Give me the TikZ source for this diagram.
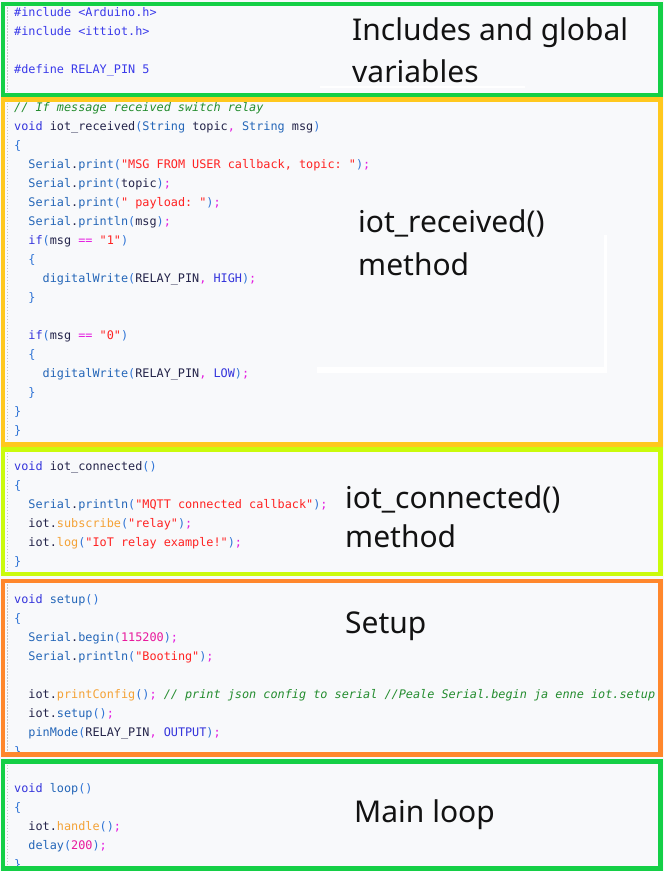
\documentclass[tikz,border=0pt]{standalone}
\usepackage{fontspec}
\usepackage{xcolor}
\newfontfamily\codefont{DejaVu Sans Mono}
\newfontfamily\labelfont{Noto Sans}

\definecolor{paper}{HTML}{F8F9FB}
\definecolor{framegreen}{HTML}{14CF46}
\definecolor{frameyellow}{HTML}{FFC81E}
\definecolor{framelime}{HTML}{CAFB0C}
\definecolor{frameorange}{HTML}{FF872C}
\definecolor{codeid}{HTML}{24244A}
\definecolor{codekw}{HTML}{3434DC}
\definecolor{codepre}{HTML}{3A3AEA}
\definecolor{codeapi}{HTML}{2466B8}
\definecolor{codebr}{HTML}{2F74D6}
\definecolor{codestr}{HTML}{FF2222}
\definecolor{codepun}{HTML}{E41CE0}
\definecolor{codenum}{HTML}{E8189C}
\definecolor{codelib}{HTML}{F4A236}
\definecolor{codecom}{HTML}{238C2E}

\newcommand\ckw[1]{\textcolor{codekw}{#1}}
\newcommand\cpre[1]{\textcolor{codepre}{#1}}
\newcommand\capi[1]{\textcolor{codeapi}{#1}}
\newcommand\cbr[1]{\textcolor{codebr}{#1}}
\newcommand\cstr[1]{\textcolor{codestr}{#1}}
\newcommand\cpun[1]{\textcolor{codepun}{#1}}
\newcommand\cnum[1]{\textcolor{codenum}{#1}}
\newcommand\clib[1]{\textcolor{codelib}{#1}}
\newcommand\ccom[1]{\textcolor{codecom}{\itshape #1}}

\tikzset{
    code/.style={anchor=base west,inner sep=0pt,text=codeid,
        font=\codefont\fontsize{11.83}{14}\selectfont\frenchspacing},
    caption/.style={anchor=base west,inner sep=0pt,text=black!93,
        font=\labelfont\fontsize{30}{36}\selectfont},
    guide/.style={gray!45,line width=0.6pt,dash pattern=on 1.5pt off 1.5pt},
}

\begin{document}
\begin{tikzpicture}[x=1pt,y=-1pt]
                \useasboundingbox (0,0) rectangle (664,871);
                \fill[paper] (0,0) rectangle (664,871);

                \foreach \a/\t/\b in {1/4/95,2/99.5/444.5,3/449.5/574,4/581/754.5,5/761.5/868.5}
                {
                    \coordinate (F\a UL) at (3,\t);
                    \coordinate (F\a DR) at (660.5,\b);
                    \draw[guide] (6.8,\t+3) -- (6.8,\b-3);
                }

                % leftover white marks of the screenshot
                \fill[white] (320,86) rectangle (525,88.2);
                \fill[white] (604,235) rectangle (607.3,372.7);
                \fill[white] (317,367.2) rectangle (607.3,372.7);

                \foreach \i/\n/\txt in {0/0/{\cpre{\#include <Arduino.h>}},
                    1/0/{\cpre{\#include <ittiot.h>}},
                    3/0/{\cpre{\#define RELAY\_PIN 5}}}
                    \node[code] (incl\i) at ({14+7.12*\n},16.5+19*\i) {\txt};

                \foreach \i/\n/\txt in {0/0/{\ccom{// If message received switch relay}},
                    1/0/{\ckw{void} iot\_received\cbr{(}\capi{String} topic\cpun{,} \capi{String} msg\cbr{)}},
                    2/0/{\cbr{\{}},
                    3/2/{\capi{Serial}.\capi{print}\cbr{(}\cstr{"MSG FROM USER callback, topic: "}\cbr{)}\cpun{;}},
                    4/2/{\capi{Serial}.\capi{print}\cbr{(}topic\cbr{)}\cpun{;}},
                    5/2/{\capi{Serial}.\capi{print}\cbr{(}\cstr{" payload: "}\cbr{)}\cpun{;}},
                    6/2/{\capi{Serial}.\capi{println}\cbr{(}msg\cbr{)}\cpun{;}},
                    7/2/{\ckw{if}\cbr{(}msg \cpun{==} \cstr{"1"}\cbr{)}},
                    8/2/{\cbr{\{}},
                    9/4/{\capi{digitalWrite}\cbr{(}RELAY\_PIN\cpun{,} \ckw{HIGH}\cbr{)}\cpun{;}},
                    10/2/{\cbr{\}}},
                    12/2/{\ckw{if}\cbr{(}msg \cpun{==} \cstr{"0"}\cbr{)}},
                    13/2/{\cbr{\{}},
                    14/4/{\capi{digitalWrite}\cbr{(}RELAY\_PIN\cpun{,} \ckw{LOW}\cbr{)}\cpun{;}},
                    15/2/{\cbr{\}}},
                    16/0/{\cbr{\}}},
                    17/0/{\cbr{\}}}}
                    \node[code] (recv\i) at ({14+7.12*\n},111+19*\i) {\txt};

                \foreach \i/\n/\txt in {0/0/{\ckw{void} iot\_connected\cbr{()}},
                    1/0/{\cbr{\{}},
                    2/2/{\capi{Serial}.\capi{println}\cbr{(}\cstr{"MQTT connected callback"}\cbr{)}\cpun{;}},
                    3/2/{iot.\clib{subscribe}\cbr{(}\cstr{"relay"}\cbr{)}\cpun{;}},
                    4/2/{iot.\clib{log}\cbr{(}\cstr{"IoT relay example!"}\cbr{)}\cpun{;}},
                    5/0/{\cbr{\}}}}
                    \node[code] (conn\i) at ({14+7.12*\n},470+19*\i) {\txt};

                \foreach \i/\n/\txt in {0/0/{\ckw{void} \capi{setup}\cbr{()}},
                    1/0/{\cbr{\{}},
                    2/2/{\capi{Serial}.\capi{begin}\cbr{(}\cnum{115200}\cbr{)}\cpun{;}},
                    3/2/{\capi{Serial}.\capi{println}\cbr{(}\cstr{"Booting"}\cbr{)}\cpun{;}},
                    5/2/{iot.\clib{printConfig}\cbr{()}\cpun{;} \ccom{// print json config to serial //Peale Serial.begin ja enne iot.setup}},
                    6/2/{iot.\capi{setup}\cbr{()}\cpun{;}},
                    7/2/{\capi{pinMode}\cbr{(}RELAY\_PIN\cpun{,} \ckw{OUTPUT}\cbr{)}\cpun{;}},
                    8/0/{\cbr{\}}}}
                    \node[code] (setup\i) at ({14+7.12*\n},603+19*\i) {\txt};

                \foreach \i/\n/\txt in {0/0/{\ckw{void} \capi{loop}\cbr{()}},
                    1/0/{\cbr{\{}},
                    2/2/{iot.\clib{handle}\cbr{()}\cpun{;}},
                    3/2/{\capi{delay}\cbr{(}\cnum{200}\cbr{)}\cpun{;}},
                    4/0/{\cbr{\}}}}
                    \node[code] (loop\i) at ({14+7.12*\n},792+19*\i) {\txt};

                % captions of the parts
                \node[caption] (inclA) at (352,40) {Includes and global};
                \node[caption] (inclB) at (352,82) {variables};
                \node[caption] (recvA) at (358,232) {iot\_received()};
                \node[caption] (recvB) at (358,275) {method};
                \node[caption] (connA) at (345,508) {iot\_connected()};
                \node[caption] (connB) at (345,547) {method};
                \node[caption] (setupA) at (345,633) {Setup};
                \node[caption] (loopA) at (354,822) {Main loop};

                \foreach \a/\c in {1/framegreen,2/frameyellow,3/framelime,4/frameorange,5/framegreen}
                    \draw[line width=4.8pt,\c] (F\a UL) rectangle (F\a DR);
            \end{tikzpicture}
\end{document}
